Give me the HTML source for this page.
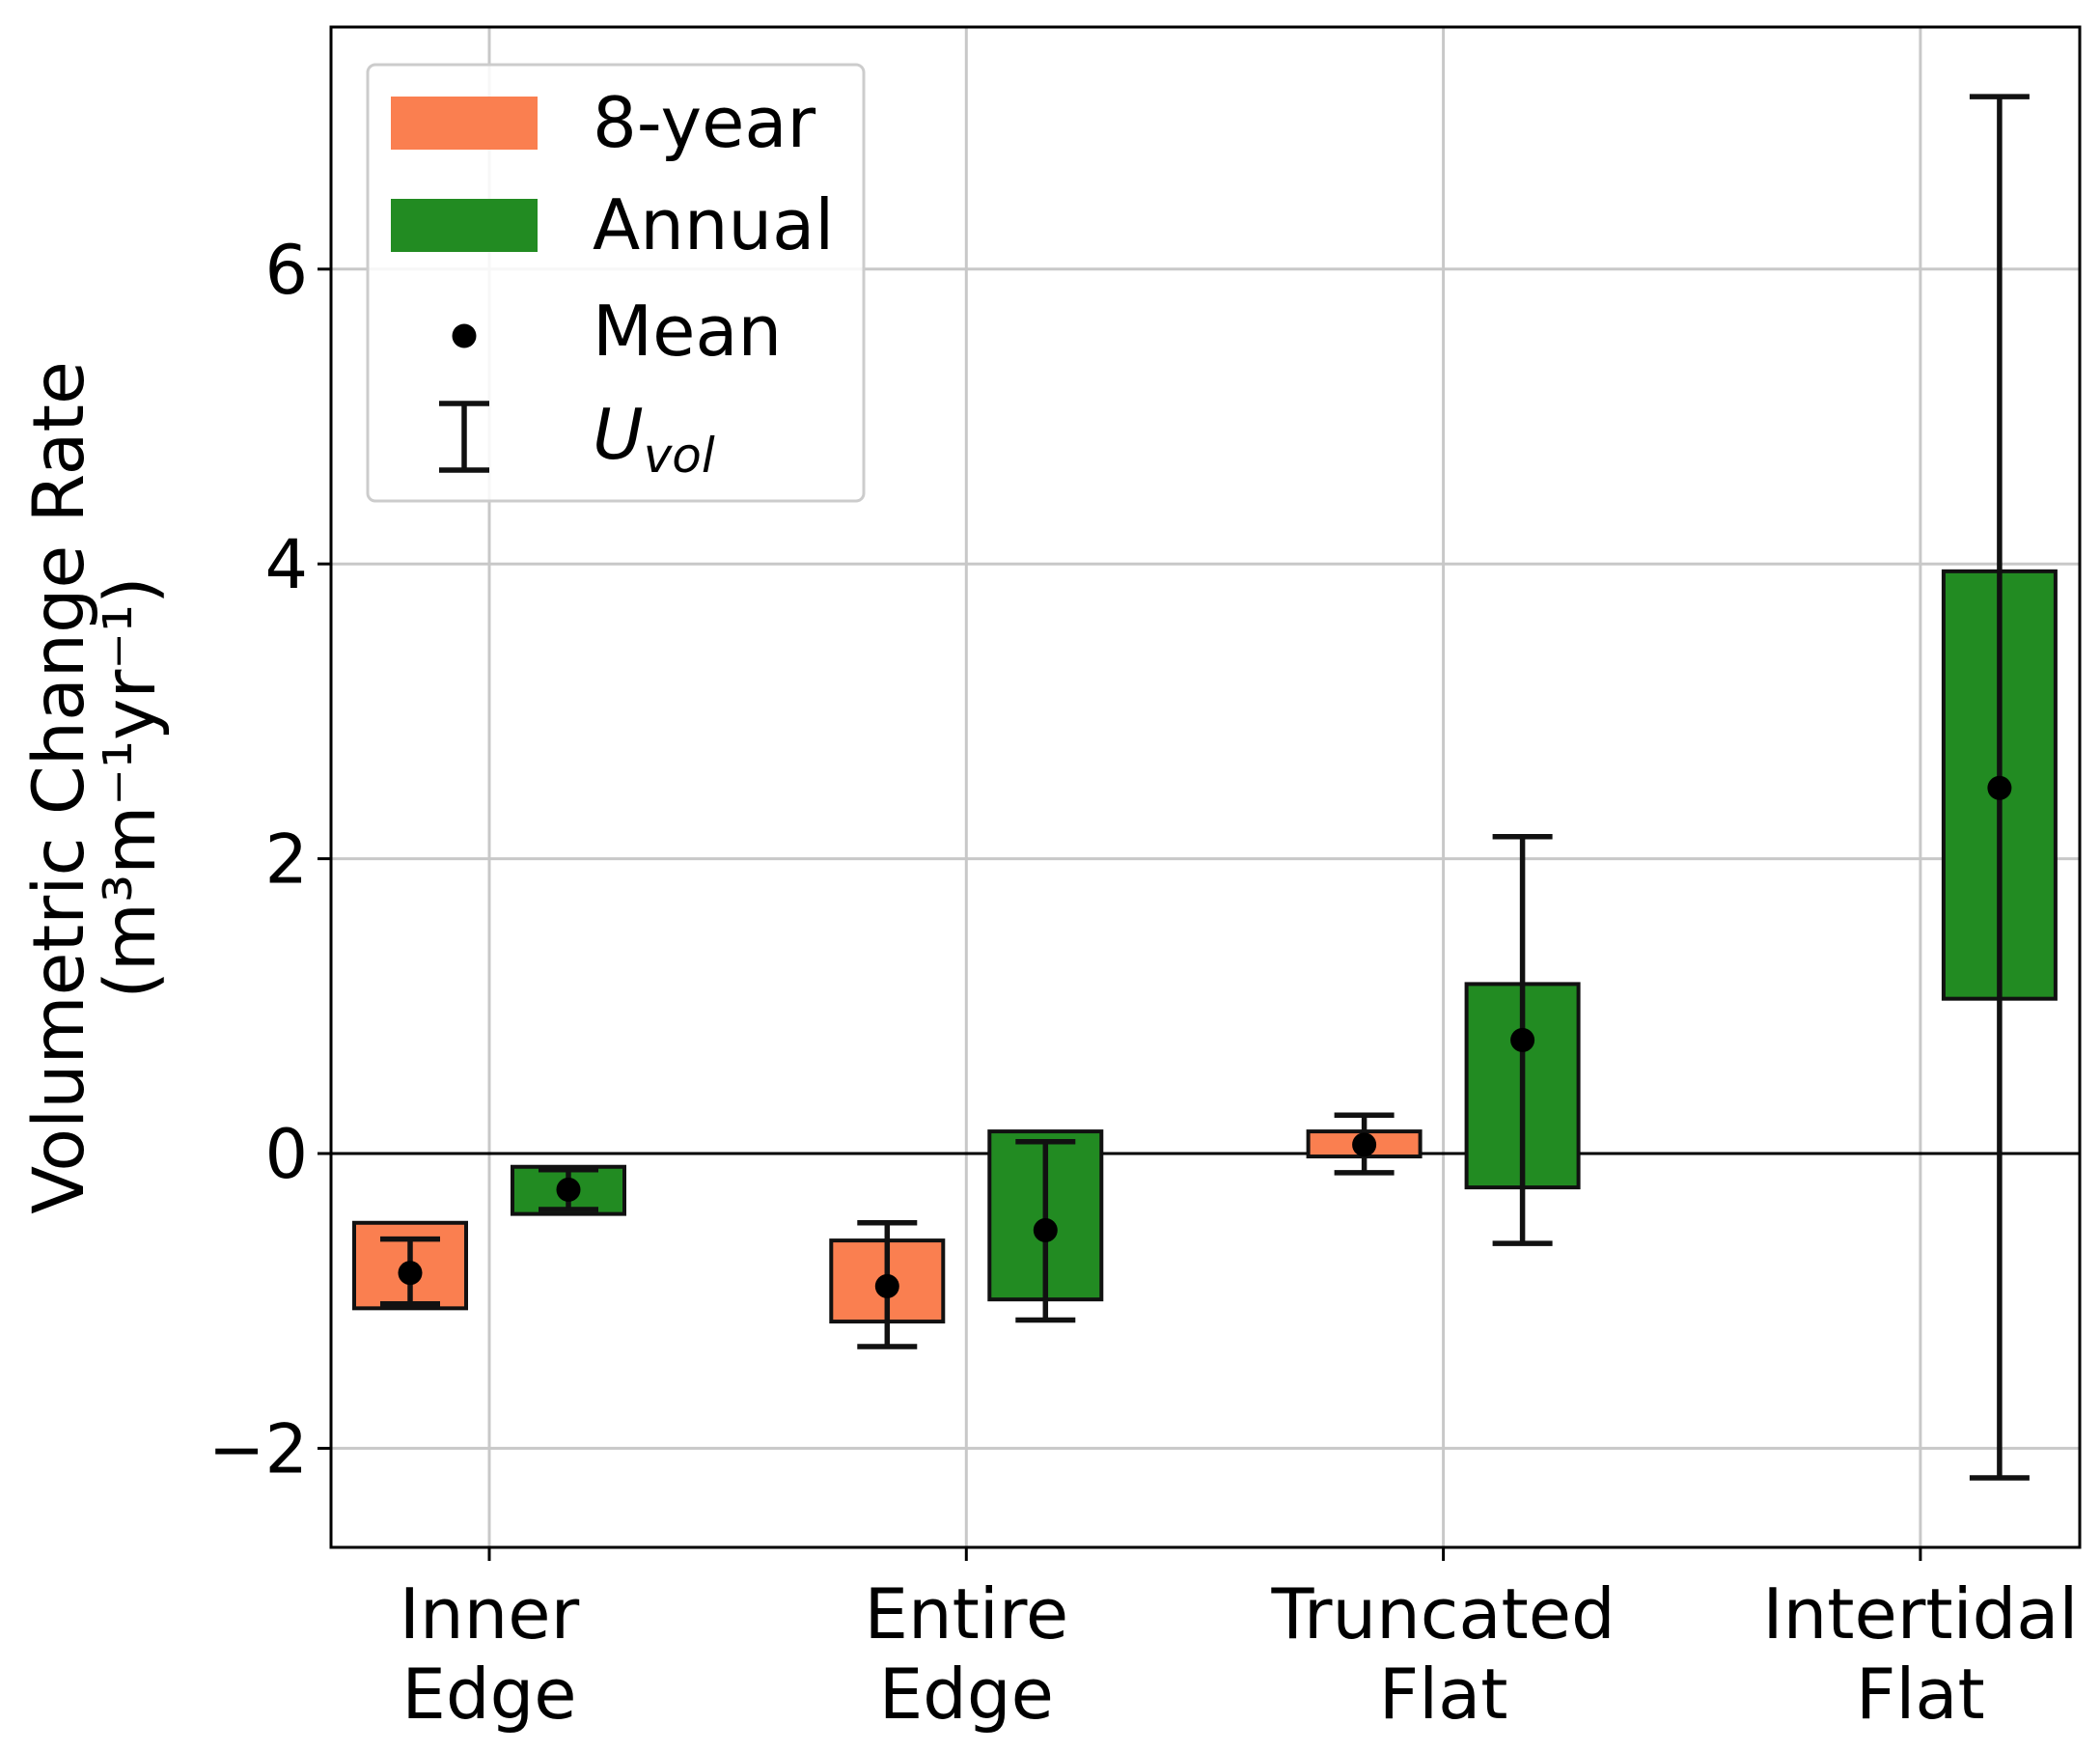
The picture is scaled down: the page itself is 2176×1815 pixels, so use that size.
<!DOCTYPE html>
<html><head><meta charset="utf-8"><style>body{margin:0;background:#fff}svg{display:block;font-family:"DejaVu Sans","Liberation Sans",sans-serif}</style></head>
<body>
<svg id="chart" width="2176" height="1815" viewBox="0 0 2176 1815" xmlns="http://www.w3.org/2000/svg"></svg>
<script>
const categories = [["Inner","Edge"],["Entire","Edge"],["Truncated","Flat"],["Intertidal","Flat"]];
const eightBarTop = [-0.47,-0.59,0.15,null];
const eightBarBottom = [-1.05,-1.14,-0.02,null];
const eightMean = [-0.81,-0.9,0.06,null];
const eightErrHigh = [-0.58,-0.47,0.26,null];
const eightErrLow = [-1.02,-1.31,-0.13,null];
const annBarTop = [-0.09,0.15,1.15,3.95];
const annBarBottom = [-0.41,-0.99,-0.23,1.05];
const annMean = [-0.245,-0.52,0.77,2.48];
const annErrHigh = [-0.11,0.08,2.15,7.17];
const annErrLow = [-0.38,-1.13,-0.61,-2.2];
const yTicks = [-2,0,2,4,6];
const yTickLabels = ["\u22122","0","2","4","6"];

const NS="http://www.w3.org/2000/svg";
const svg=document.getElementById('chart');
const L=343,R=2155,T=28,B=1603;
const yScale=v=>1195-v*152.7;
const xScale=i=>507+i*494.3;
function mk(tag,attrs,parent){const e=document.createElementNS(NS,tag);for(const k in attrs)e.setAttribute(k,attrs[k]);(parent||svg).appendChild(e);return e;}
yTicks.forEach((t,i)=>{
  const g=mk('line',{x1:L,x2:R,y1:yScale(t),y2:yScale(t),stroke:'#c8c8c8','stroke-width':3});
  
  
  mk('line',{x1:L-14,x2:L,y1:yScale(t),y2:yScale(t),stroke:'#000','stroke-width':3});
  const tx=mk('text',{x:L-24,y:yScale(t)+25,'text-anchor':'end','font-size':70});
  tx.textContent=yTickLabels[i];
  
  
});
categories.forEach((c,i)=>{
  const g=mk('line',{x1:xScale(i),x2:xScale(i),y1:T,y2:B,stroke:'#c8c8c8','stroke-width':3});
  
  
  mk('line',{x1:xScale(i),x2:xScale(i),y1:B,y2:B+14,stroke:'#000','stroke-width':3});
  c.forEach((s,j)=>{
    const tx=mk('text',{x:xScale(i),y:1697+j*83,'text-anchor':'middle','font-size':72});
    tx.textContent=s;
    
    
  });
});
mk('line',{x1:L,x2:R,y1:yScale(0),y2:yScale(0),stroke:'#000','stroke-width':3});
function series(top,bot,mean,hi,lo,off,color,name){
  categories.forEach((c,i)=>{
    if(top[i]===null)return;
    const cx=xScale(i)+off;
    const r=mk('rect',{x:cx-58,y:yScale(top[i]),width:116,height:yScale(bot[i])-yScale(top[i]),fill:color,stroke:'#111','stroke-width':4});
    
    
    const e=mk('g',{stroke:'#111','stroke-width':5.5});
    
    
    mk('line',{x1:cx,x2:cx,y1:yScale(hi[i]),y2:yScale(lo[i])},e);
    mk('line',{x1:cx-31,x2:cx+31,y1:yScale(hi[i]),y2:yScale(hi[i])},e);
    mk('line',{x1:cx-31,x2:cx+31,y1:yScale(lo[i]),y2:yScale(lo[i])},e);
    const m=mk('circle',{cx:cx,cy:yScale(mean[i]),r:12.5,fill:'#000'});
    
    
  });
}
series(eightBarTop,eightBarBottom,eightMean,eightErrHigh,eightErrLow,-82,'#fa7f50','eight-year');
series(annBarTop,annBarBottom,annMean,annErrHigh,annErrLow,82,'#228b22','annual');
const f=mk('rect',{x:L,y:T,width:R-L,height:B-T,fill:'none',stroke:'#000','stroke-width':3});


</script>
<svg style="position:absolute;left:0;top:0;font-family:'DejaVu Sans','Liberation Sans',sans-serif" width="2176" height="1815" xmlns="http://www.w3.org/2000/svg">
<g font-size="73" text-anchor="middle">
<text transform="translate(86,816) rotate(-90)" y="0">Volumetric Change Rate</text>
<text transform="translate(160,816) rotate(-90)" y="0">(m³m⁻¹yr⁻¹)</text>
</g>
<g>
<rect x="381" y="67" width="514" height="452" rx="8" fill="#fff" fill-opacity="0.85" stroke="#ccc" stroke-width="3"/>
<rect x="405" y="100" width="152" height="55" fill="#fa7f50"/>
<text x="614" y="152" font-size="72">8-year</text>
<rect x="405" y="206" width="152" height="55" fill="#228b22"/>
<text x="614" y="258" font-size="72">Annual</text>
<circle cx="481" cy="348" r="12.5" fill="#000"/>
<text x="614" y="368" font-size="72">Mean</text>
<g stroke="#111" stroke-width="5.5"><line x1="481" x2="481" y1="418" y2="487"/><line x1="455" x2="507" y1="418" y2="418"/><line x1="455" x2="507" y1="487" y2="487"/></g>
<text x="614" y="475" font-size="72" font-style="italic">U<tspan font-size="50" dy="14">vol</tspan></text>
</g>
</svg>
</body></html>
